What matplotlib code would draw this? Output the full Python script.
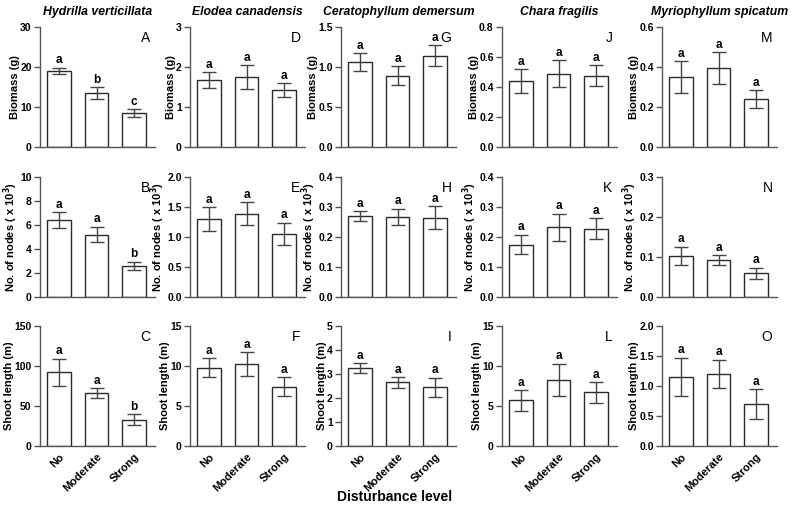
import matplotlib
matplotlib.use("Agg")
import matplotlib.pyplot as plt
import numpy as np

plt.rcParams["font.family"] = ["Liberation Sans", "DejaVu Sans"]

levels = ["No", "Moderate", "Strong"]
species = ["Hydrilla verticillata", "Elodea canadensis", "Ceratophyllum demersum",
           "Chara fragilis", "Myriophyllum spicatum"]
row_labels = ["Biomass (g)", "No. of nodes ( x 10$^{\\mathbf{3}}$)", "Shoot length (m)"]

# biomass (g)
biomass_mean = [[19.0, 13.5, 8.5], [1.67, 1.75, 1.42], [1.06, 0.89, 1.14],
                [0.44, 0.49, 0.475], [0.35, 0.395, 0.24]]
biomass_se = [[0.8, 1.5, 0.9], [0.2, 0.3, 0.17], [0.11, 0.12, 0.13],
              [0.08, 0.09, 0.07], [0.08, 0.08, 0.045]]
# nodes (x 10^3)
nodes_mean = [[6.4, 5.2, 2.6], [1.3, 1.39, 1.05], [0.27, 0.268, 0.265],
              [0.175, 0.232, 0.228], [0.103, 0.093, 0.059]]
nodes_se = [[0.65, 0.65, 0.35], [0.2, 0.19, 0.19], [0.016, 0.027, 0.038],
            [0.033, 0.045, 0.035], [0.023, 0.012, 0.014]]
# shoot length (m)
shoot_mean = [[92, 66, 33], [9.8, 10.2, 7.4], [3.25, 2.65, 2.45],
              [5.7, 8.3, 6.7], [1.15, 1.2, 0.7]]
shoot_se = [[17, 6.5, 7], [1.2, 1.5, 1.2], [0.2, 0.22, 0.4],
            [1.3, 2.0, 1.3], [0.32, 0.24, 0.25]]

letters = [
    [["a", "b", "c"], ["a", "a", "b"], ["a", "a", "b"]],
    [["a", "a", "a"]] * 3,
    [["a", "a", "a"]] * 3,
    [["a", "a", "a"]] * 3,
    [["a", "a", "a"]] * 3,
]
panel_ids = [["A", "B", "C"], ["D", "E", "F"], ["G", "H", "I"], ["J", "K", "L"], ["M", "N", "O"]]

yticks = [
    [[0, 10, 20, 30], [0, 2, 4, 6, 8, 10], [0, 50, 100, 150]],
    [[0, 1, 2, 3], [0.0, 0.5, 1.0, 1.5, 2.0], [0, 5, 10, 15]],
    [[0.0, 0.5, 1.0, 1.5], [0.0, 0.1, 0.2, 0.3, 0.4], [0, 1, 2, 3, 4, 5]],
    [[0.0, 0.2, 0.4, 0.6, 0.8], [0.0, 0.1, 0.2, 0.3, 0.4], [0, 5, 10, 15]],
    [[0.0, 0.2, 0.4, 0.6], [0.0, 0.1, 0.2, 0.3], [0.0, 0.5, 1.0, 1.5, 2.0]],
]
tick_fmt = [
    ["%d", "%d", "%d"],
    ["%d", "%.1f", "%d"],
    ["%.1f", "%.1f", "%d"],
    ["%.1f", "%.1f", "%d"],
    ["%.1f", "%.1f", "%.1f"],
]

means = [biomass_mean, nodes_mean, shoot_mean]
ses = [biomass_se, nodes_se, shoot_se]

W, H = 791, 511
fig = plt.figure(figsize=(W / 100, H / 100), dpi=100)

col_left = [40, 190, 341, 502, 662]
row_top = [27, 177, 326]
ax_w, ax_h = 115, 120

edge = "#2a2a2a"
for c in range(5):
    for r in range(3):
        ax = fig.add_axes([col_left[c] / W, 1 - (row_top[r] + ax_h) / H, ax_w / W, ax_h / H])
        x = np.arange(3)
        m = means[r][c]
        s = ses[r][c]
        ax.bar(x, m, width=0.63, color="white", edgecolor=edge, linewidth=1.0, zorder=2)
        ax.errorbar(x, m, yerr=s, fmt="none", ecolor="#444444", elinewidth=1.0,
                    capsize=5, capthick=1.0, zorder=3)
        top = yticks[c][r][-1]
        for i in range(3):
            ax.text(x[i], m[i] + s[i] + top * 0.012, letters[c][r][i], ha="center",
                    va="bottom", fontsize=8.5, fontweight="bold")
        ax.set_xlim(-0.5, 2.55)
        ax.set_ylim(0, top)
        ax.set_yticks(yticks[c][r])
        ax.set_yticklabels([tick_fmt[c][r] % v for v in yticks[c][r]],
                           fontsize=7.5, fontweight="bold")
        ax.spines["top"].set_visible(False)
        ax.spines["right"].set_visible(False)
        for sp in ["left", "bottom"]:
            ax.spines[sp].set_color("#555555")
            ax.spines[sp].set_linewidth(1.0)
        ax.tick_params(axis="y", direction="out", length=4, width=1, color="#555555", pad=2)
        ax.set_ylabel(row_labels[r], fontsize=8, fontweight="bold", labelpad=0)
        ax.text(0.96, 0.97, panel_ids[c][r], transform=ax.transAxes, ha="right",
                va="top", fontsize=10)
        if r == 2:
            ax.set_xticks(x)
            ax.set_xticklabels(levels, rotation=45, ha="right", rotation_mode="anchor",
                               fontsize=8, fontweight="bold")
            ax.tick_params(axis="x", length=0, pad=4)
        else:
            ax.set_xticks([])
        if r == 0:
            ax.set_title(species[c], fontsize=8.8, fontweight="bold", fontstyle="italic", pad=9)

fig.text(395 / W, 1 - 497 / H, "Disturbance level", ha="center", va="center",
         fontsize=10, fontweight="bold")

fig.savefig("out.png", dpi=100)
